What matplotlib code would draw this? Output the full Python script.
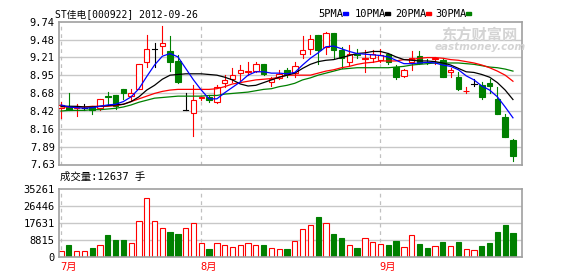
import numpy as np
import matplotlib
matplotlib.use("Agg")
import matplotlib.pyplot as plt
from matplotlib.patches import Rectangle

opens = [8.47, 8.49, 8.46, 8.46, 8.48, 8.47, 8.64, 8.66, 8.74, 8.64,
         8.75, 9.14, 9.34, 9.38, 9.30, 9.16, 8.43, 8.39, 8.61, 8.63,
         8.55, 8.84, 8.90, 8.98, 9.00, 9.01, 9.11, 8.85, 8.91, 9.03,
         8.98, 9.26, 9.34, 9.54, 9.37, 9.57, 9.32, 9.15, 9.27, 9.19,
         9.21, 9.17, 9.27, 9.07, 8.94, 9.14, 9.24, 9.15, 9.19, 9.18,
         8.99, 8.93, 8.71, 8.82, 8.80, 8.84, 8.60, 8.33, 7.99]
highs = [8.56, 8.68, 8.53, 8.52, 8.50, 8.60, 8.70, 8.66, 8.74, 8.75,
         9.12, 9.55, 9.43, 9.68, 9.53, 9.25, 8.69, 8.80, 8.63, 8.65,
         8.80, 8.95, 9.05, 9.10, 9.15, 9.15, 9.11, 8.93, 9.02, 9.05,
         9.15, 9.53, 9.54, 9.54, 9.59, 9.57, 9.37, 9.39, 9.34, 9.32,
         9.32, 9.34, 9.28, 9.10, 9.04, 9.30, 9.30, 9.19, 9.22, 9.20,
         9.06, 9.00, 8.77, 8.89, 8.85, 8.90, 8.77, 8.37, 8.00]
lows = [8.32, 8.43, 8.35, 8.43, 8.37, 8.43, 8.52, 8.45, 8.60, 8.58,
        8.74, 9.07, 9.07, 9.27, 9.01, 8.83, 8.43, 8.05, 8.58, 8.55,
        8.54, 8.77, 8.85, 8.88, 8.95, 9.00, 8.95, 8.79, 8.89, 8.93,
        8.93, 9.20, 9.27, 9.12, 9.27, 9.20, 9.05, 9.10, 9.20, 9.00,
        9.15, 9.15, 9.12, 8.90, 8.92, 9.02, 9.11, 9.12, 9.12, 8.92,
        8.92, 8.73, 8.68, 8.79, 8.60, 8.69, 8.38, 8.03, 7.68]
closes = [8.51, 8.44, 8.48, 8.46, 8.44, 8.60, 8.62, 8.49, 8.69, 8.69,
          9.11, 9.33, 9.34, 9.43, 9.14, 8.85, 8.43, 8.59, 8.62, 8.58,
          8.77, 8.88, 8.95, 9.02, 9.01, 9.11, 8.97, 8.90, 8.97, 8.97,
          9.08, 9.32, 9.48, 9.32, 9.57, 9.32, 9.21, 9.27, 9.25, 9.20,
          9.27, 9.25, 9.15, 8.93, 9.02, 9.21, 9.13, 9.14, 9.20, 8.93,
          9.02, 8.74, 8.72, 8.82, 8.63, 8.79, 8.38, 8.03, 7.75]
volumes = [2950, 6250, 2950, 2950, 4700, 6080, 11290, 8860, 8860, 7120,
           18760, 30570, 18760, 14940, 13030, 11990, 14940, 17540, 7120, 4170,
           7120, 6080, 5040, 6080, 7120, 6080, 6250, 4520, 4000, 4340,
           8340, 14590, 16500, 20840, 17540, 11990, 9900, 6080, 4690, 9730,
           7640, 6600, 6250, 8340, 5040, 11290, 6770, 4690, 5560, 7820,
           5560, 7820, 4000, 3650, 5730, 7300, 13030, 16680, 12637]

ma5 = [8.51, 8.48, 8.47, 8.46, 8.47, 8.49, 8.51, 8.52, 8.56, 8.63,
       8.75, 8.93, 9.10, 9.23, 9.27, 9.22, 9.05, 8.88, 8.73, 8.60,
       8.60, 8.69, 8.77, 8.85, 8.95, 9.00, 9.00, 8.98, 8.98, 8.97,
       8.99, 9.10, 9.20, 9.28, 9.37, 9.38, 9.34, 9.30, 9.27, 9.26,
       9.25, 9.24, 9.22, 9.17, 9.12, 9.12, 9.13, 9.14, 9.13, 9.10,
       9.08, 9.03, 8.94, 8.88, 8.79, 8.73, 8.63, 8.48, 8.32]
ma10 = [8.49, 8.49, 8.49, 8.48, 8.48, 8.49, 8.50, 8.51, 8.52, 8.56,
        8.63, 8.73, 8.80, 8.89, 8.95, 8.96, 8.97, 8.97, 8.97, 8.96,
        8.95, 8.92, 8.88, 8.82, 8.79, 8.80, 8.84, 8.88, 8.92, 8.95,
        8.98, 9.05, 9.11, 9.15, 9.17, 9.18, 9.21, 9.24, 9.27, 9.28,
        9.30, 9.30, 9.27, 9.22, 9.18, 9.17, 9.16, 9.16, 9.15, 9.13,
        9.10, 9.05, 9.00, 8.99, 8.96, 8.92, 8.84, 8.73, 8.59]
ma20 = [8.48, 8.48, 8.48, 8.48, 8.49, 8.49, 8.49, 8.50, 8.52, 8.56,
        8.60, 8.64, 8.68, 8.71, 8.73, 8.74, 8.74, 8.74, 8.74, 8.74,
        8.75, 8.78, 8.82, 8.84, 8.86, 8.88, 8.89, 8.90, 8.92, 8.95,
        8.95, 8.95, 8.95, 8.98, 9.01, 9.03, 9.06, 9.08, 9.11, 9.13,
        9.14, 9.16, 9.16, 9.16, 9.18, 9.18, 9.20, 9.21, 9.21, 9.20,
        9.18, 9.17, 9.15, 9.13, 9.10, 9.06, 9.01, 8.95, 8.86]
ma30 = [8.42, 8.43, 8.43, 8.43, 8.44, 8.44, 8.45, 8.46, 8.48, 8.51,
        8.55, 8.58, 8.61, 8.62, 8.63, 8.64, 8.64, 8.64, 8.64, 8.65,
        8.65, 8.67, 8.68, 8.69, 8.70, 8.72, 8.74, 8.75, 8.78, 8.80,
        8.83, 8.88, 8.91, 8.95, 8.98, 9.01, 9.04, 9.05, 9.06, 9.06,
        9.06, 9.06, 9.06, 9.07, 9.08, 9.10, 9.11, 9.12, 9.13, 9.13,
        9.13, 9.13, 9.12, 9.11, 9.09, 9.07, 9.06, 9.04, 9.01]

price_labels = ["7.63", "7.89", "8.16", "8.42", "8.68", "8.95", "9.21", "9.48", "9.74"]
vol_labels = ["0", "8815", "17631", "26446", "35261"]
month_labels = ["7月", "8月", "9月"]
month_idx = [0, 18, 41]

RED = "#ff0000"
GREEN = "#008000"
GRID = "#c8c8c8"
BORDER = "#a0a0a0"
W, H = 578, 276

plt.rcParams["font.family"] = ["DejaVu Sans Mono", "Noto Sans CJK SC"]

fig = plt.figure(figsize=(W / 100, H / 100), dpi=100)
ax1 = fig.add_axes([59 / W, 1 - 164.5 / H, 463 / W, (164.5 - 21.7) / H])
ax2 = fig.add_axes([59 / W, 19 / H, 463 / W, 68 / H])

n = len(closes)
x = np.arange(n)
ptick = np.linspace(7.63, 9.74, len(price_labels))
vtick = np.linspace(0, 35261, len(vol_labels))

for ax, ticks, labels in [(ax1, ptick, price_labels), (ax2, vtick, vol_labels)]:
    ax.set_xlim(-0.26, n + 0.16)
    ax.set_ylim(ticks[0], ticks[-1])
    ax.set_xticks([])
    ax.set_yticks(ticks)
    ax.set_yticklabels(labels, fontsize=7.5)
    ax.tick_params(axis="y", length=0, pad=3)
    for t in ticks[1:-1]:
        ax.axhline(t, color=GRID, lw=1, zorder=0)
    for m in month_idx:
        ax.axvline(m, color="#c0c0c0", lw=0.9, ls=(0, (3, 3)), zorder=0)
    for s in ax.spines.values():
        s.set_color(BORDER)
        s.set_linewidth(1.2)

bw = 0.7
for i in range(n):
    o, h, l, c = opens[i], highs[i], lows[i], closes[i]
    if c > o:
        col = RED
    elif c < o:
        col = GREEN
    else:
        col = "black"
    ax1.plot([i, i], [l, h], color=col, lw=0.8, zorder=2)
    if c == o:
        ax1.plot([i - bw / 2, i + bw / 2], [c, c], color=col, lw=0.8, zorder=3)
    else:
        fc = "white" if c > o else GREEN
        ax1.add_patch(Rectangle((i - bw / 2, min(o, c)), bw, abs(c - o),
                                facecolor=fc, edgecolor=col, lw=0.8, zorder=3))
    vcol = GREEN if c < o else RED
    vfc = GREEN if c < o else "white"
    ax2.add_patch(Rectangle((i - 0.34, 0), 0.68, volumes[i],
                            facecolor=vfc, edgecolor=vcol, lw=0.8, zorder=2))

ax1.plot(x, ma30, color=GREEN, lw=0.9, zorder=4)
ax1.plot(x, ma20, color=RED, lw=0.9, zorder=4)
ax1.plot(x, ma10, color="black", lw=0.9, zorder=4)
ax1.plot(x, ma5, color="#0000ff", lw=0.9, zorder=4)

# watermark
fig.text(441 / W, 1 - 34.5 / H, "东方财富网", color="#d4d4d4", fontsize=11,
         fontweight="bold", family="Noto Sans CJK SC", va="center", ha="left", zorder=1)
fig.text(435 / W, 1 - 46.5 / H, "eastmoney.com", color="#d4d4d4", fontsize=7.5,
         fontweight="bold", style="italic", family="DejaVu Sans", va="center", ha="left", zorder=1)

fig.text(55 / W, 1 - 14 / H, "ST佳电[000922] 2012-09-26", fontsize=7, va="center", ha="left")

legend = [("5PMA", "#0000ff", 318), ("10PMA", "black", 355),
          ("20PMA", RED, 395), ("30PMA", GREEN, 435)]
for name, col, lx in legend:
    fig.text(lx / W, 1 - 14 / H, name, fontsize=7.5, va="center", ha="left")
    mx = lx + 5.9 * len(name) + 1
    fig.patches.append(Rectangle((mx / W, 1 - 15 / H), 5 / W, 3 / H, color=col,
                                 transform=fig.transFigure, figure=fig))

fig.text(60 / W, 1 - 176.7 / H, "成交量:12637 手", fontsize=7.5, va="center", ha="left")

for lab, m in zip(month_labels, month_idx):
    mx = 59 + (m + 0.26) * 463 / (n + 0.42) - 1
    fig.text(mx / W, 1 - 267 / H, lab, color=RED, fontsize=7.5, va="center", ha="left")

plt.savefig("out.png", dpi=100)
